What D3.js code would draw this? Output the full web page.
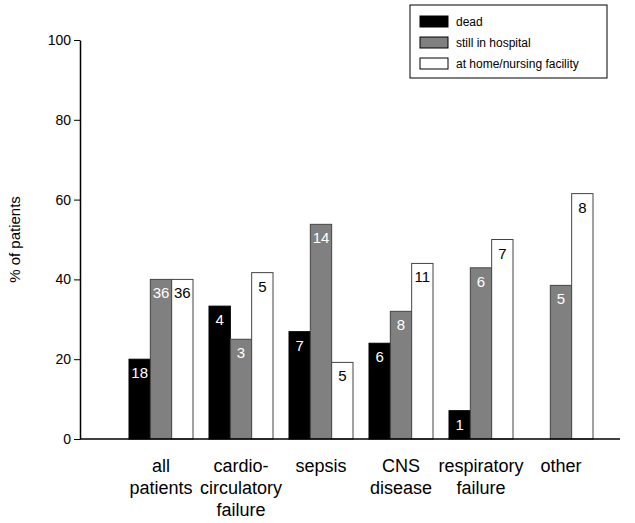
<!DOCTYPE html>
<html><head><meta charset="utf-8">
<script src="https://cdn.jsdelivr.net/npm/d3@7"></script>
<style>body{margin:0;background:#fff}</style></head>
<body><div id="chart"></div>
<script>
var categories = ['all patients', 'cardio-circulatory failure', 'sepsis', 'CNS disease', 'respiratory failure', 'other'];
var catLines = [['all', 'patients'], ['cardio-', 'circulatory', 'failure'], ['sepsis'], ['CNS', 'disease'], ['respiratory', 'failure'], ['other']];
var seriesNames = ['dead', 'still in hospital', 'at home/nursing facility'];
var dead = [20, 33.3, 26.9, 24, 7.1, 0];
var hospital = [40, 25, 53.8, 32, 42.9, 38.5];
var home = [40, 41.7, 19.2, 44, 50, 61.5];
var deadN = [18, 4, 7, 6, 1, null];
var hospitalN = [36, 3, 14, 8, 6, 5];
var homeN = [36, 5, 5, 11, 7, 8];
var yTicks = [0, 20, 40, 60, 80, 100];

var width = 635, height = 523;
var fills = ['#000', '#808080', '#fff'];
var textFills = ['#fff', '#fff', '#000'];
var font = 'Liberation Sans, Arial, sans-serif';

var svg = d3.select('#chart').append('svg')
    .attr('width', width).attr('height', height)
    .style('font-family', font);

var x = d3.scaleBand().domain(categories).range([113, 609])
    .paddingInner(0.2).paddingOuter(0.2);
var xs = d3.scaleBand().domain(seriesNames).range([0, x.bandwidth()]);
var y = d3.scaleLinear().domain([0, 100]).range([439, 40]);

var values = [dead, hospital, home];
var counts = [deadN, hospitalN, homeN];

seriesNames.forEach(function(s, si) {
    var g = svg.append('g');
    categories.forEach(function(c, ci) {
        var v = values[si][ci];
        if (!v) return;
        g.append('rect')
            .attr('x', x(c) + xs(s))
            .attr('y', y(v))
            .attr('width', xs.bandwidth())
            .attr('height', y(0) - y(v))
            .attr('fill', fills[si])
            .attr('stroke', si == 0 ? '#000' : '#444')
            .attr('stroke-width', 1);
        if (counts[si][ci] != null) {
            g.append('text')
                .attr('x', x(c) + xs(s) + xs.bandwidth() / 2)
                .attr('y', y(v) + 19)
                .attr('text-anchor', 'middle')
                .attr('font-size', '15px')
                .attr('fill', textFills[si])
                .text(counts[si][ci]);
        }
    });
});

// axes
var yAxis = svg.append('g').attr('transform', 'translate(80,0)')
    .call(d3.axisLeft(y).tickValues(yTicks).tickSize(6).tickSizeOuter(0));
yAxis.selectAll('text').attr('font-size', '14px').attr('font-family', font).attr('fill', '#000');
yAxis.select('.domain').attr('stroke', '#000').attr('stroke-width', 1.5);

svg.append('line')
    .attr('x1', 80).attr('x2', 620).attr('y1', y(0)).attr('y2', y(0))
    .attr('stroke', '#000').attr('stroke-width', 1.5);

svg.append('text')
    .attr('transform', 'translate(20,' + y(50) + ') rotate(-90)')
    .attr('text-anchor', 'middle')
    .attr('font-size', '15px')
    .text('% of patients');

categories.forEach(function(c, ci) {
    var t = svg.append('text')
        .attr('text-anchor', 'middle')
        .attr('font-size', '18px');
    catLines[ci].forEach(function(line, li) {
        t.append('tspan')
            .attr('x', x(c) + x.bandwidth() / 2)
            .attr('y', 472 + li * 22)
            .text(line);
    });
});

// legend
var legend = svg.append('g').attr('transform', 'translate(410,5)');
legend.append('rect').attr('width', 197).attr('height', 73)
    .attr('fill', '#fff').attr('stroke', '#000');
seriesNames.forEach(function(s, si) {
    legend.append('rect')
        .attr('x', 10).attr('y', 11 + si * 21)
        .attr('width', 28).attr('height', 11)
        .attr('fill', fills[si]).attr('stroke', '#000');
    legend.append('text')
        .attr('x', 46).attr('y', 21 + si * 21)
        .attr('font-size', '12px')
        .text(s);
});
</script></body></html>
